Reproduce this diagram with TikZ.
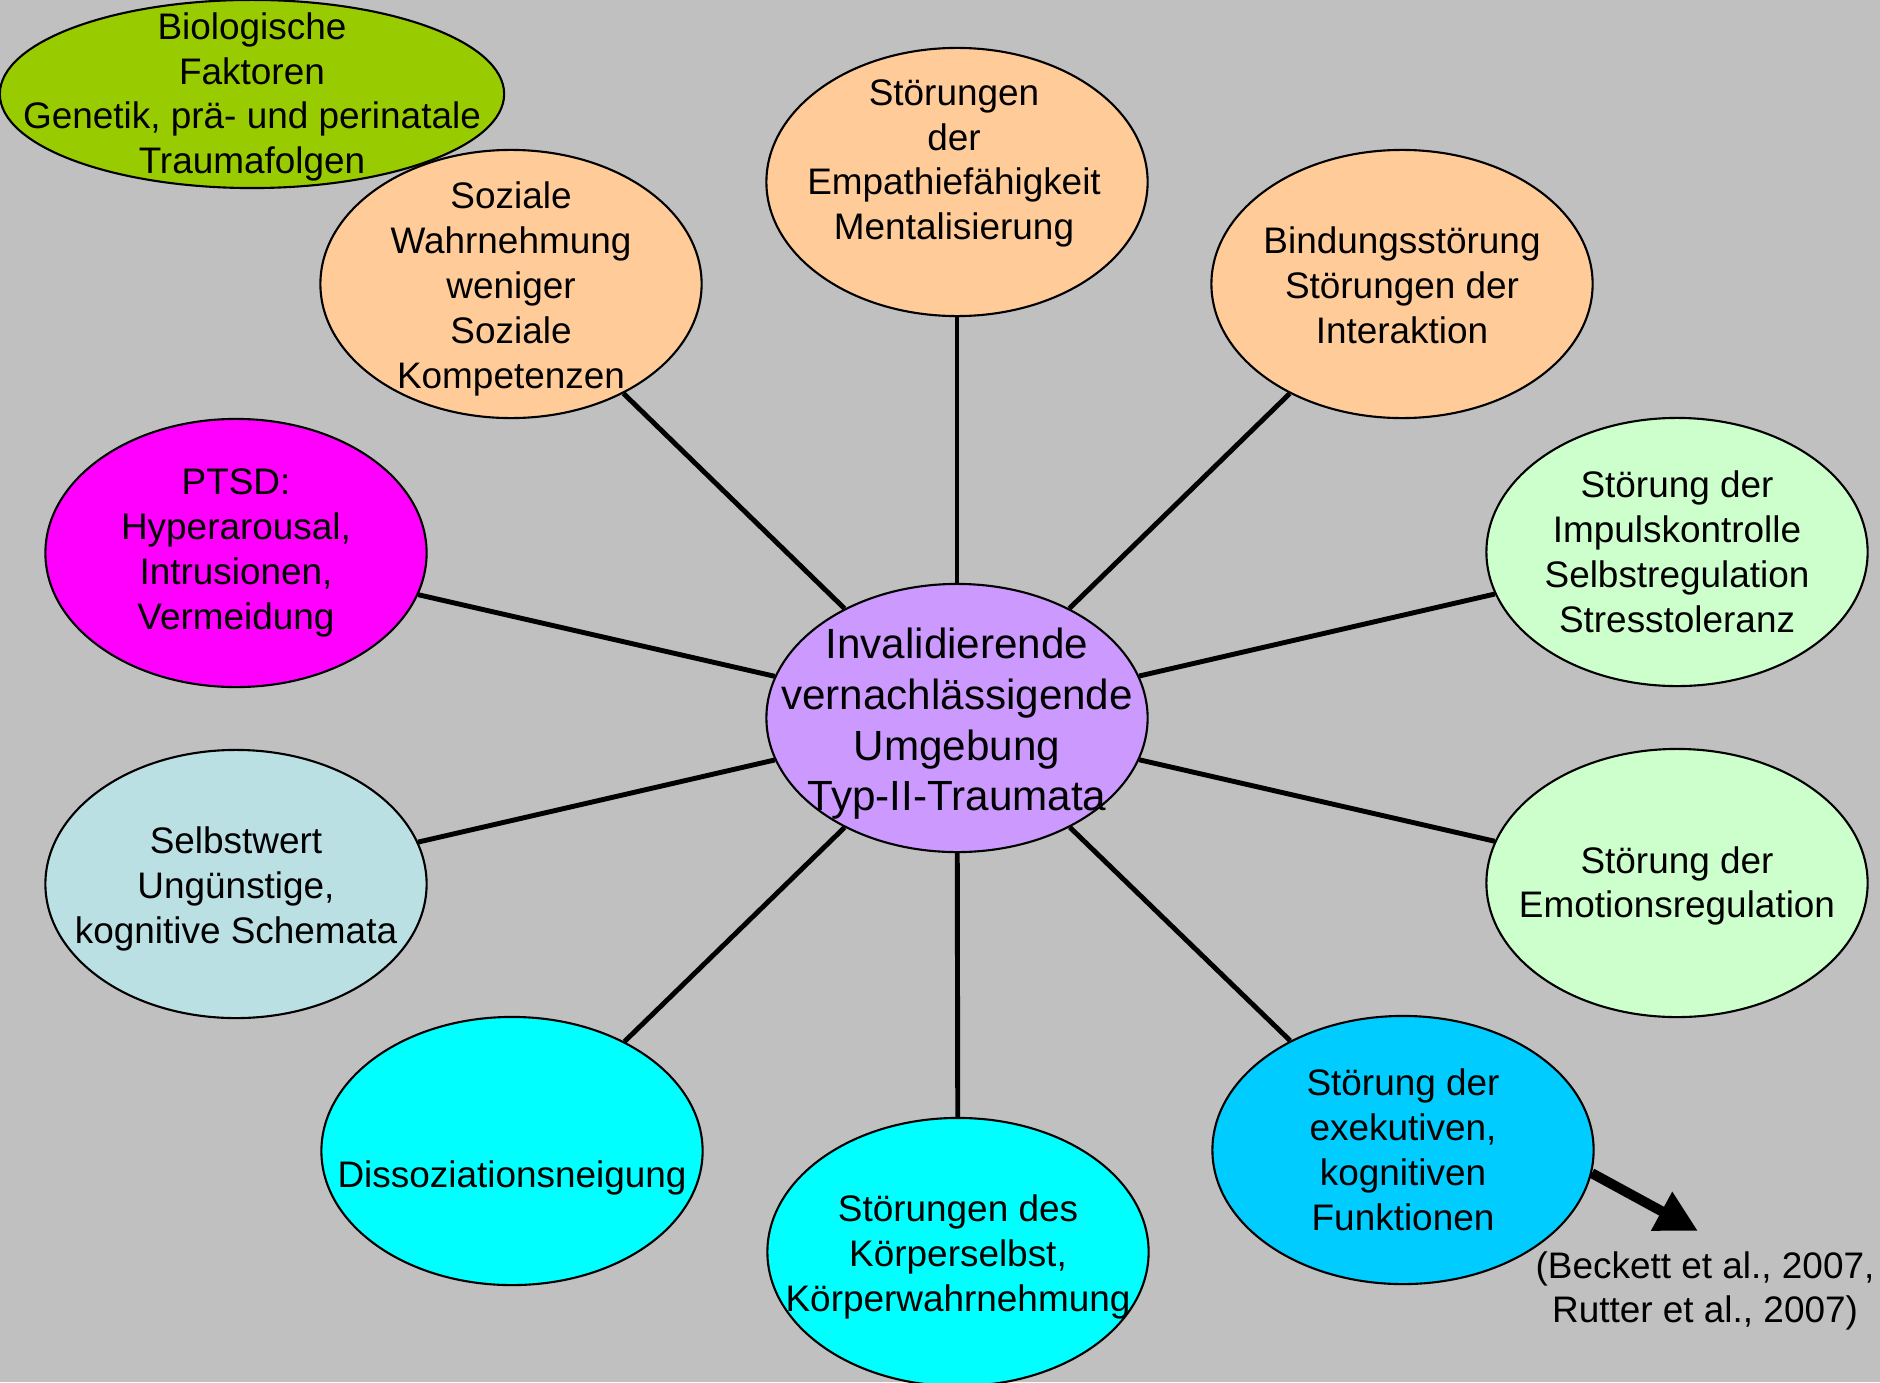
\documentclass[tikz,border=0pt]{standalone}
\usepackage{fontspec}
\setmainfont{Liberation Sans}
\usepackage{xcolor}
\usetikzlibrary{shapes.geometric,arrows.meta,positioning,calc}

\definecolor{bggray}{RGB}{192,192,192}
\definecolor{lime}{RGB}{153,204,0}
\definecolor{peach}{RGB}{255,204,153}
\definecolor{lilac}{RGB}{204,153,255}
\definecolor{mint}{RGB}{204,255,204}
\definecolor{paleblue}{RGB}{187,224,227}
\definecolor{pink}{RGB}{255,0,255}
\definecolor{aqua}{RGB}{0,255,255}
\definecolor{skyblue}{RGB}{0,204,255}

\tikzset{
    bubble/.style={ellipse, draw=black, line width=0.6pt, inner sep=0pt,
        minimum width=3.81cm, minimum height=2.68cm},
    txt/.style={align=center, inner sep=0pt,
        font=\fontsize{10.5pt}{12.75pt}\selectfont},
    spoke/.style={line width=1.4pt}
}

\begin{document}
\begin{tikzpicture}[x=0.01cm, y=-0.01cm]
    \fill[bggray] (0,0) rectangle (1880,1382);
    \useasboundingbox (0,0) rectangle (1880,1382);

    % Center
    \node[bubble, fill=lilac] (inv) at (957,718) {};

    % Top row
    \node[bubble, fill=lime, minimum width=5.04cm, minimum height=1.88cm] (bio) at (252,94) {};
    \node[bubble, fill=peach] (soz) at (511,284) {};
    \node[bubble, fill=peach] (emp) at (957,182) {};
    \node[bubble, fill=peach] (bin) at (1402,284) {};

    % Left and right
    \node[bubble, fill=pink] (ptsd) at (236,553) {};
    \node[bubble, fill=mint] (imp) at (1677,552) {};
    \node[bubble, fill=paleblue] (sel) at (236,884) {};
    \node[bubble, fill=mint] (emo) at (1677,883) {};

    % Bottom row
    \node[bubble, fill=aqua] (dis) at (512,1151) {};
    \node[bubble, fill=aqua] (kor) at (958,1252) {};
    \node[bubble, fill=skyblue] (exe) at (1403,1150) {};

    % Spokes
    \foreach \n in {soz,emp,bin,ptsd,imp,sel,emo,dis,kor,exe}
        \draw[spoke] (inv) -- (\n);

    % Texts
    \node[txt] (bio-t) at ($(bio)+(0,3)$) {Biologische\\Faktoren\\Genetik, prä- und perinatale\\Traumafolgen};
    \node[txt] (soz-t) at ($(soz)+(0,5)$) {Soziale\\Wahrnehmung\\weniger\\Soziale\\Kompetenzen};
    \node[txt] (emp-t) at ($(emp)+(-3,0)$) {Störungen\\der\\Empathiefähigkeit\\Mentalisierung\\\mbox{}};
    \node[txt] (bin-t) at ($(bin)+(0,1)$) {Bindungsstörung\\Störungen der\\Interaktion};
    \node[txt] (ptsd-t) at (ptsd) {PTSD:\\Hyperarousal,\\Intrusionen,\\Vermeidung};
    \node[txt] (imp-t) at (imp) {Störung der\\Impulskontrolle\\Selbstregulation\\Stresstoleranz};
    \node[txt] (sel-t) at ($(sel)+(0,5)$) {Selbstwert\\Ungünstige,\\kognitive Schemata};
    \node[txt] (emo-t) at ($(emo)+(0,3)$) {Störung der\\Emotionsregulation};
    \node[txt] (dis-t) at ($(dis)+(0,27)$) {Dissoziationsneigung};
    \node[txt] (kor-t) at ($(kor)+(0,5)$) {Störungen des\\Körperselbst,\\Körperwahrnehmung};
    \node[txt] (exe-t) at (exe) {Störung der\\exekutiven,\\kognitiven\\Funktionen};
    \node[txt, font=\fontsize{12pt}{14.4pt}\selectfont] (inv-t) at ($(inv)+(0,6)$)
        {Invalidierende\\vernachlässigende\\Umgebung\\Typ-II-Traumata};

    % Reference arrow
    \coordinate (tip) at (1698,1231);
    \draw[line width=2.85pt, -{Triangle[length=11.8pt, width=11.8pt]}] (exe.-7) -- (tip);
    \node[txt] (ref) at (1705,1291) {(Beckett et al., 2007,\\Rutter et al., 2007)};
\end{tikzpicture}
\end{document}
